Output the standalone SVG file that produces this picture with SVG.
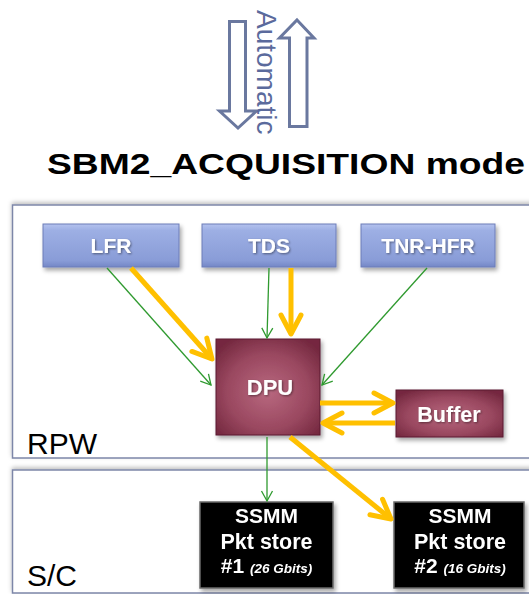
<svg xmlns="http://www.w3.org/2000/svg" width="529" height="594" viewBox="0 0 529 594">
  <defs>
    <style>
      .lbl { font-family: "Liberation Sans", Arial, sans-serif; }
      .bt { font-family: "Liberation Sans", Arial, sans-serif; font-weight: bold; fill: #ffffff; text-anchor: middle; }
      .frame { fill: #ffffff; stroke: #7d86a8; stroke-width: 1.5; }
      .blue { fill: url(#gBlue); stroke: #6c7db8; stroke-width: 1; }
      .maroon { fill: url(#gMaroon); stroke: #5a1a30; stroke-width: 1; }
      .black { fill: #000000; stroke: #6a6a6a; stroke-width: 1.5; }
      .green { stroke: #2f9a2f; stroke-width: 1.3; fill: none; }
      .yellow { stroke: #ffc000; stroke-width: 5; fill: none; }
      .hollow { fill: #ffffff; stroke: #6a789f; stroke-width: 3; stroke-linejoin: miter; }
    </style>
    <linearGradient id="gBlue" x1="0" y1="0" x2="0" y2="1">
      <stop offset="0" stop-color="#b4c2ee"/>
      <stop offset="0.15" stop-color="#9dafe4"/>
      <stop offset="0.85" stop-color="#899cd7"/>
      <stop offset="1" stop-color="#7487c6"/>
    </linearGradient>
    <radialGradient id="gMaroon" cx="0.5" cy="0.55" r="0.65">
      <stop offset="0" stop-color="#b8687f"/>
      <stop offset="0.6" stop-color="#9a4860"/>
      <stop offset="1" stop-color="#74283f"/>
    </radialGradient>
    <filter id="shadow" x="-20%" y="-20%" width="140%" height="150%">
      <feDropShadow dx="2" dy="3" stdDeviation="2" flood-color="#000" flood-opacity="0.35"/>
    </filter>
    <filter id="fshadow" x="-5%" y="-10%" width="110%" height="120%">
      <feDropShadow dx="0" dy="-2" stdDeviation="2" flood-color="#000" flood-opacity="0.25"/>
    </filter>
    <filter id="tshadow" x="-10%" y="-20%" width="120%" height="150%">
      <feDropShadow dx="1" dy="1" stdDeviation="0.8" flood-color="#000" flood-opacity="0.45"/>
    </filter>
    <marker id="mY" markerUnits="userSpaceOnUse" viewBox="-26 -15 30 30" refX="0" refY="0" markerWidth="30" markerHeight="30" orient="auto">
      <path d="M-19,-10 L0,0 L-19,10" fill="none" stroke="#ffc000" stroke-width="5" stroke-linecap="round" stroke-linejoin="round"/>
    </marker>
    <marker id="mG" markerUnits="userSpaceOnUse" viewBox="-13 -7 15 14" refX="0" refY="0" markerWidth="15" markerHeight="14" orient="auto">
      <path d="M-10,-5.5 L0,0 L-10,5.5" fill="none" stroke="#2f9a2f" stroke-width="1.3"/>
    </marker>
  </defs>

  <rect width="529" height="594" fill="#ffffff"/>

  <!-- Mode transition arrows -->
  <g id="transition">
    <polygon class="hollow" points="229.5,21.5 245.5,21.5 245.5,111 256.5,111 238,128 219.5,111 229.5,111"/>
    <polygon class="hollow" points="297,20 314,38 307,38 307,126.5 289.5,126.5 289.5,38 279.5,38"/>
    <text class="lbl" transform="translate(257,10) rotate(90)" font-size="28" fill="#5b6a9c">Automatic</text>
  </g>

  <!-- Title -->
  <text id="title" class="lbl" x="47" y="174" font-size="30" font-weight="bold" fill="#000" textLength="478" lengthAdjust="spacingAndGlyphs">SBM2_ACQUISITION mode</text>

  <!-- Containers -->
  <g id="rpw">
    <rect class="frame" x="12.5" y="205" width="530" height="253" filter="url(#fshadow)"/>
    <text class="lbl" x="27" y="454" font-size="30" fill="#000">RPW</text>
  </g>
  <g id="sc">
    <rect class="frame" x="12.5" y="470" width="530" height="123" filter="url(#fshadow)"/>
    <text class="lbl" x="27" y="586" font-size="30" fill="#000">S/C</text>
  </g>

  <!-- Nodes -->
  <g id="lfr" filter="url(#shadow)">
    <rect class="blue" x="43" y="224" width="136" height="43"/>
    <text class="bt" x="111" y="253" font-size="21" filter="url(#tshadow)">LFR</text>
  </g>
  <g id="tds" filter="url(#shadow)">
    <rect class="blue" x="202" y="224" width="134" height="43"/>
    <text class="bt" x="269" y="253" font-size="21" filter="url(#tshadow)">TDS</text>
  </g>
  <g id="tnr-hfr" filter="url(#shadow)">
    <rect class="blue" x="361" y="224" width="134" height="43"/>
    <text class="bt" x="428" y="253" font-size="21" filter="url(#tshadow)">TNR-HFR</text>
  </g>
  <g id="dpu" filter="url(#shadow)">
    <rect class="maroon" x="216" y="339" width="104" height="96"/>
    <text class="bt" x="270" y="395" font-size="22" filter="url(#tshadow)">DPU</text>
  </g>
  <g id="buffer" filter="url(#shadow)">
    <rect class="maroon" x="396" y="390" width="107" height="47"/>
    <text class="bt" x="449" y="422" font-size="21.5" filter="url(#tshadow)">Buffer</text>
  </g>
  <g id="ssmm1" filter="url(#shadow)">
    <rect class="black" x="200" y="502" width="133" height="86"/>
    <text class="bt" x="266.5" y="523" font-size="21">SSMM</text>
    <text class="bt" x="266.5" y="549" font-size="21.5">Pkt store</text>
    <text class="bt" x="266.5" y="573" font-size="21">#1 <tspan font-size="13.5" font-style="italic">(26 Gbits)</tspan></text>
  </g>
  <g id="ssmm2" filter="url(#shadow)">
    <rect class="black" x="394" y="502" width="130" height="86"/>
    <text class="bt" x="460" y="523" font-size="21">SSMM</text>
    <text class="bt" x="460" y="549" font-size="21.5">Pkt store</text>
    <text class="bt" x="460" y="573" font-size="21">#2 <tspan font-size="13.5" font-style="italic">(16 Gbits)</tspan></text>
  </g>

  <!-- Connectors -->
  <g id="connectors">
    <line class="green" x1="107" y1="268" x2="211" y2="385" marker-end="url(#mG)"/>
    <line class="green" x1="269" y1="268" x2="267" y2="338" marker-end="url(#mG)"/>
    <line class="green" x1="427" y1="268" x2="322" y2="385" marker-end="url(#mG)"/>
    <line class="green" x1="267" y1="437" x2="267" y2="501" marker-end="url(#mG)"/>
    <line class="yellow" x1="131" y1="268" x2="212" y2="359" marker-end="url(#mY)"/>
    <line class="yellow" x1="291" y1="268" x2="291" y2="334" marker-end="url(#mY)"/>
    <line class="yellow" x1="320" y1="403" x2="393" y2="403" marker-end="url(#mY)"/>
    <line class="yellow" x1="395" y1="423" x2="323" y2="423" marker-end="url(#mY)"/>
    <line class="yellow" x1="290" y1="437" x2="391" y2="519" marker-end="url(#mY)"/>
  </g>
</svg>
